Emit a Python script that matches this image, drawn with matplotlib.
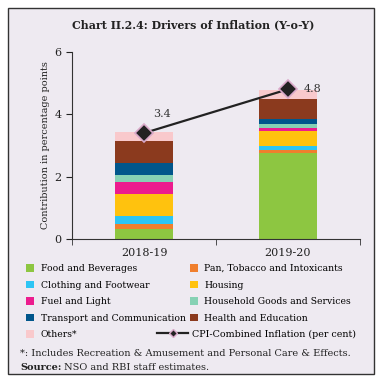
import matplotlib
matplotlib.use("Agg")
import matplotlib.pyplot as plt
from matplotlib.patches import Rectangle, Patch
from matplotlib.lines import Line2D
import numpy as np

plt.rcParams['font.family'] = ['DejaVu Serif']

years = ['2018-19', '2019-20']
groups = ['Food and Beverages', 'Pan, Tobacco and Intoxicants', 'Clothing and Footwear',
          'Housing', 'Fuel and Light', 'Household Goods and Services',
          'Transport and Communication', 'Health and Education', 'Others*']
contrib = {
    'Food and Beverages': [0.33, 2.75],
    'Pan, Tobacco and Intoxicants': [0.16, 0.12],
    'Clothing and Footwear': [0.27, 0.12],
    'Housing': [0.69, 0.47],
    'Fuel and Light': [0.38, 0.11],
    'Household Goods and Services': [0.23, 0.13],
    'Transport and Communication': [0.37, 0.16],
    'Health and Education': [0.73, 0.63],
    'Others*': [0.26, 0.30],
}
cpi = [3.4, 4.8]
colors = ['#8DC641', '#F07F2D', '#2DC5F4', '#FFC20E', '#EC1C8E',
          '#86D1B4', '#01568B', '#8B3A1E', '#F9C9CC']

bg = '#EEEAF1'
fig = plt.figure(figsize=(3.82, 3.81), dpi=100)
fig.patch.set_facecolor('white')
# framed lavender panel
fig.patches.append(Rectangle((7.5 / 382, 1 - 373.5 / 381), 366 / 382, 366 / 381,
                             transform=fig.transFigure, facecolor=bg,
                             edgecolor='#333333', linewidth=1.0, zorder=-10))

fig.text(0.505, 1 - 25 / 381, 'Chart II.2.4: Drivers of Inflation (Y-o-Y)',
         ha='center', va='center', fontsize=7.9, fontweight='bold', color='#222222')

ax = fig.add_axes([0.189, 0.372, 0.753, 0.492])
ax.set_facecolor(bg)

x = np.arange(len(years))
bottom = np.zeros(len(years))
for g, c in zip(groups, colors):
    vals = np.array(contrib[g])
    ax.bar(x, vals, width=0.4, bottom=bottom, color=c, label=g, linewidth=0)
    bottom += vals

ax.plot(x, cpi, color='#222222', linewidth=1.6, marker='D', markersize=9,
        markerfacecolor='#222222', markeredgecolor='#D9A9C9', markeredgewidth=1.2,
        zorder=5)
ax.annotate(f'{cpi[0]:.1f}', (x[0], cpi[0]), xytext=(13, 14), textcoords='offset points',
            ha='center', va='center', fontsize=8, color='#333333')
ax.annotate(f'{cpi[1]:.1f}', (x[1], cpi[1]), xytext=(18, 0), textcoords='offset points',
            ha='center', va='center', fontsize=8, color='#333333')

ax.set_xlim(-0.5, 1.5)
ax.set_ylim(0, 6)
ax.set_yticks([0, 2, 4, 6])
ax.set_xticks(x)
ax.set_xticklabels(years)
ax.set_xticks([-0.5, 0.5, 1.5], minor=True)
ax.tick_params(axis='x', which='major', length=0, labelsize=8, pad=6, colors='#222222')
ax.tick_params(axis='x', which='minor', length=4, direction='out', color='#333333')
ax.tick_params(axis='y', length=4, direction='out', labelsize=8, colors='#222222')
for s in ['top', 'right']:
    ax.spines[s].set_visible(False)
for s in ['left', 'bottom']:
    ax.spines[s].set_color('#333333')
ax.set_ylabel('Contribution in percentage points', fontsize=7, color='#222222', labelpad=3)

# legend: squares in two columns, CPI line entry on its own
order = [0, 2, 4, 6, 8, 1, 3, 5, 7]
handles = [Patch(facecolor=colors[i], edgecolor='none') for i in order]
labels = [groups[i] for i in order]
fig.legend(handles, labels, ncol=2, loc='upper left', bbox_to_anchor=(26 / 382, 1 - 264 / 381),
           frameon=False, fontsize=6.7, handlelength=0.9, handleheight=0.9,
           handletextpad=0.7, columnspacing=0.4, labelspacing=0.8, borderaxespad=0,
           borderpad=0)

cpi_handle = Line2D([], [], color='#222222', linewidth=1.6, marker='D', markersize=4,
                    markerfacecolor='#222222', markeredgecolor='#D9A9C9')
fig.legend([cpi_handle], ['CPI-Combined Inflation (per cent)'], loc='center left',
           bbox_to_anchor=(157 / 382, 1 - 334 / 381), frameon=False, fontsize=6.8,
           handlelength=3.3, handletextpad=0.4, borderaxespad=0, borderpad=0)

fig.text(20 / 382, 1 - 354 / 381,
         '*: Includes Recreation & Amusement and Personal Care & Effects.',
         ha='left', va='center', fontsize=7.0, color='#222222')
src = fig.text(20 / 382, 1 - 368 / 381, 'Source:', ha='left', va='center',
               fontsize=7.0, fontweight='bold', color='#222222')
ax.annotate(' NSO and RBI staff estimates.', xy=(1, 0.5), xycoords=src,
            ha='left', va='center', fontsize=7.0, color='#222222', annotation_clip=False)

fig.savefig('out.png', dpi=100, facecolor='white')
